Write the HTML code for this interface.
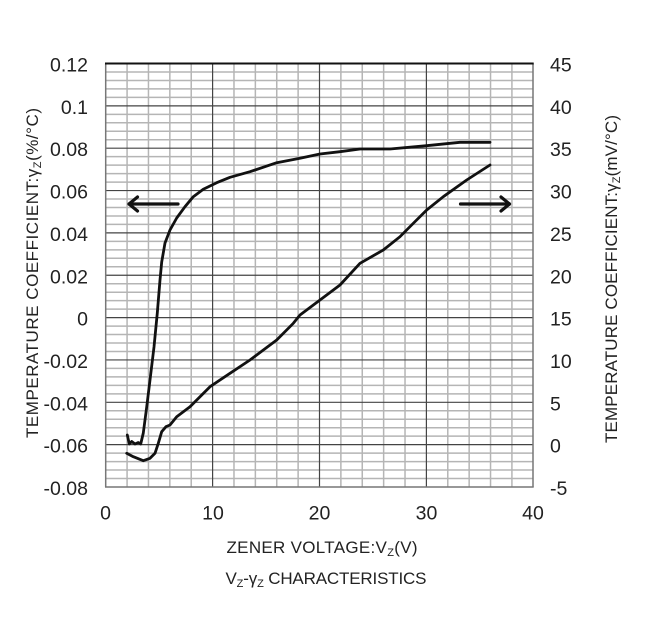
<!DOCTYPE html>
<html>
<head>
<meta charset="utf-8">
<style>
  html,body{margin:0;padding:0;background:#fff;}
  svg{display:block;}
  text{font-family:"Liberation Sans",Arial,sans-serif;fill:#222;}
</style>
</head>
<body>
<svg width="657" height="629" viewBox="0 0 657 629" xmlns="http://www.w3.org/2000/svg">
  <rect x="0" y="0" width="657" height="629" fill="#fff"/>
  <!-- minor grid -->
  <g stroke="#b5b5b5" stroke-width="1.5">
    <line x1="127.08" y1="63.5" x2="127.08" y2="487"/>
    <line x1="148.46" y1="63.5" x2="148.46" y2="487"/>
    <line x1="169.84" y1="63.5" x2="169.84" y2="487"/>
    <line x1="191.22" y1="63.5" x2="191.22" y2="487"/>
    <line x1="233.98" y1="63.5" x2="233.98" y2="487"/>
    <line x1="255.36" y1="63.5" x2="255.36" y2="487"/>
    <line x1="276.74" y1="63.5" x2="276.74" y2="487"/>
    <line x1="298.12" y1="63.5" x2="298.12" y2="487"/>
    <line x1="340.88" y1="63.5" x2="340.88" y2="487"/>
    <line x1="362.26" y1="63.5" x2="362.26" y2="487"/>
    <line x1="383.64" y1="63.5" x2="383.64" y2="487"/>
    <line x1="405.02" y1="63.5" x2="405.02" y2="487"/>
    <line x1="447.78" y1="63.5" x2="447.78" y2="487"/>
    <line x1="469.16" y1="63.5" x2="469.16" y2="487"/>
    <line x1="490.54" y1="63.5" x2="490.54" y2="487"/>
    <line x1="511.92" y1="63.5" x2="511.92" y2="487"/>
  </g>
  <g stroke="#b5b5b5" stroke-width="1.5">
    <line x1="105.7" y1="71.97" x2="533" y2="71.97"/><line x1="105.7" y1="80.44" x2="533" y2="80.44"/><line x1="105.7" y1="88.91" x2="533" y2="88.91"/><line x1="105.7" y1="97.38" x2="533" y2="97.38"/>
    <line x1="105.7" y1="114.32" x2="533" y2="114.32"/><line x1="105.7" y1="122.79" x2="533" y2="122.79"/><line x1="105.7" y1="131.26" x2="533" y2="131.26"/><line x1="105.7" y1="139.73" x2="533" y2="139.73"/>
    <line x1="105.7" y1="156.67" x2="533" y2="156.67"/><line x1="105.7" y1="165.14" x2="533" y2="165.14"/><line x1="105.7" y1="173.61" x2="533" y2="173.61"/><line x1="105.7" y1="182.08" x2="533" y2="182.08"/>
    <line x1="105.7" y1="199.02" x2="533" y2="199.02"/><line x1="105.7" y1="207.49" x2="533" y2="207.49"/><line x1="105.7" y1="215.96" x2="533" y2="215.96"/><line x1="105.7" y1="224.43" x2="533" y2="224.43"/>
    <line x1="105.7" y1="241.37" x2="533" y2="241.37"/><line x1="105.7" y1="249.84" x2="533" y2="249.84"/><line x1="105.7" y1="258.31" x2="533" y2="258.31"/><line x1="105.7" y1="266.78" x2="533" y2="266.78"/>
    <line x1="105.7" y1="283.72" x2="533" y2="283.72"/><line x1="105.7" y1="292.19" x2="533" y2="292.19"/><line x1="105.7" y1="300.66" x2="533" y2="300.66"/><line x1="105.7" y1="309.13" x2="533" y2="309.13"/>
    <line x1="105.7" y1="326.07" x2="533" y2="326.07"/><line x1="105.7" y1="334.54" x2="533" y2="334.54"/><line x1="105.7" y1="343.01" x2="533" y2="343.01"/><line x1="105.7" y1="351.48" x2="533" y2="351.48"/>
    <line x1="105.7" y1="368.42" x2="533" y2="368.42"/><line x1="105.7" y1="376.89" x2="533" y2="376.89"/><line x1="105.7" y1="385.36" x2="533" y2="385.36"/><line x1="105.7" y1="393.83" x2="533" y2="393.83"/>
    <line x1="105.7" y1="410.77" x2="533" y2="410.77"/><line x1="105.7" y1="419.24" x2="533" y2="419.24"/><line x1="105.7" y1="427.71" x2="533" y2="427.71"/><line x1="105.7" y1="436.18" x2="533" y2="436.18"/>
    <line x1="105.7" y1="453.12" x2="533" y2="453.12"/><line x1="105.7" y1="461.59" x2="533" y2="461.59"/><line x1="105.7" y1="470.06" x2="533" y2="470.06"/><line x1="105.7" y1="478.53" x2="533" y2="478.53"/>
  </g>
  <!-- major grid -->
  <g stroke="#444" stroke-width="1.2">
    <line x1="212.6" y1="63.5" x2="212.6" y2="487"/>
    <line x1="319.5" y1="63.5" x2="319.5" y2="487"/>
    <line x1="426.4" y1="63.5" x2="426.4" y2="487"/>
    <line x1="105.7" y1="105.85" x2="533" y2="105.85"/>
    <line x1="105.7" y1="148.2" x2="533" y2="148.2"/>
    <line x1="105.7" y1="190.55" x2="533" y2="190.55"/>
    <line x1="105.7" y1="232.9" x2="533" y2="232.9"/>
    <line x1="105.7" y1="275.25" x2="533" y2="275.25"/>
    <line x1="105.7" y1="317.6" x2="533" y2="317.6"/>
    <line x1="105.7" y1="359.95" x2="533" y2="359.95"/>
    <line x1="105.7" y1="402.3" x2="533" y2="402.3"/>
    <line x1="105.7" y1="444.65" x2="533" y2="444.65"/>
  </g>
  <!-- borders -->
  <g stroke="#777" stroke-width="1.5" fill="none">
    <line x1="105.7" y1="63.5" x2="105.7" y2="487"/>
    <line x1="533" y1="63.5" x2="533" y2="487"/>
    <line x1="105" y1="487" x2="533.7" y2="487"/>
  </g>
  <line x1="105" y1="63.5" x2="533.7" y2="63.5" stroke="#111" stroke-width="2"/>

  <!-- curves -->
  <g fill="none" stroke="#111" stroke-width="2.8" stroke-linejoin="round" stroke-linecap="round">
    <polyline points="127.3,435 129.3,444 131.7,441.5 135,444 138.3,442.5 140.7,444 143.3,433 146.7,407 150,380 154,347 157.3,313 160,280 161.7,262 165,243 170,230 176.7,218 185,206.7 193.3,196.7 203.3,189.3 216.7,182.7 230,177.3 250,171.7 276.7,162.7 300,158.3 320,154 340,151.7 360,149 390,149 426.7,145.7 460,142.3 490,142.3"/>
    <polyline points="126.7,453.3 133.3,456.7 143.3,460.7 150,458.3 155,453.3 158.3,443.3 161.7,431.7 166,426.7 170,425 176.7,416.7 190,406.7 210,386.7 230,373.3 250,360 276.7,340 293.3,323.3 300,315 320,300 340,285 360,263.3 383.3,250 400,236.7 413.3,223.3 426.7,210 443.3,196.7 466.7,180 490,165"/>
  </g>
  <!-- arrows -->
  <g fill="none" stroke="#111" stroke-width="3.2" stroke-linecap="round" stroke-linejoin="round">
    <line x1="129" y1="204" x2="178" y2="204"/>
    <polyline points="137.5,197 129,204 137.5,211"/>
    <line x1="460.5" y1="204" x2="509.5" y2="204"/>
    <polyline points="501,197 509.5,204 501,211"/>
  </g>

  <!-- left tick labels -->
  <g font-size="19.5" text-anchor="end">
    <text x="88" y="71.5">0.12</text>
    <text x="88" y="113.85">0.1</text>
    <text x="88" y="156.2">0.08</text>
    <text x="88" y="198.55">0.06</text>
    <text x="88" y="240.9">0.04</text>
    <text x="88" y="283.25">0.02</text>
    <text x="88" y="325.6">0</text>
    <text x="88" y="367.95">-0.02</text>
    <text x="88" y="410.3">-0.04</text>
    <text x="88" y="452.65">-0.06</text>
    <text x="88" y="495">-0.08</text>
  </g>
  <!-- right tick labels -->
  <g font-size="19.5" text-anchor="start">
    <text x="550" y="71.5">45</text>
    <text x="550" y="113.85">40</text>
    <text x="550" y="156.2">35</text>
    <text x="550" y="198.55">30</text>
    <text x="550" y="240.9">25</text>
    <text x="550" y="283.25">20</text>
    <text x="550" y="325.6">15</text>
    <text x="550" y="367.95">10</text>
    <text x="550" y="410.3">5</text>
    <text x="550" y="452.65">0</text>
    <text x="550" y="495">-5</text>
  </g>
  <!-- x tick labels -->
  <g font-size="19.5" text-anchor="middle">
    <text x="105.5" y="519.5">0</text>
    <text x="213" y="519.5">10</text>
    <text x="319.5" y="519.5">20</text>
    <text x="426.5" y="519.5">30</text>
    <text x="533" y="519.5">40</text>
  </g>

  <!-- x title -->
  <text x="322" y="553" font-size="17" text-anchor="middle" textLength="191">ZENER VOLTAGE:V<tspan font-size="11" dy="3">Z</tspan><tspan dy="-3">(V)</tspan></text>
  <text x="326" y="584" font-size="17" text-anchor="middle" textLength="201">V<tspan font-size="11" dy="3">Z</tspan><tspan dy="-3">-γ</tspan><tspan font-size="11" dy="3">Z</tspan><tspan dy="-3"> CHARACTERISTICS</tspan></text>

  <!-- left axis title -->
  <text transform="translate(38,273) rotate(-90)" x="0" y="0" font-size="17" text-anchor="middle" textLength="330">TEMPERATURE  COEFFICIENT:γ<tspan font-size="11" dy="3">Z</tspan><tspan dy="-3">(%/°C)</tspan></text>
  <!-- right axis title -->
  <text transform="translate(617,279) rotate(-90)" x="0" y="0" font-size="17" text-anchor="middle" textLength="328">TEMPERATURE  COEFFICIENT:γ<tspan font-size="11" dy="3">Z</tspan><tspan dy="-3">(mV/°C)</tspan></text>
</svg>
</body>
</html>
